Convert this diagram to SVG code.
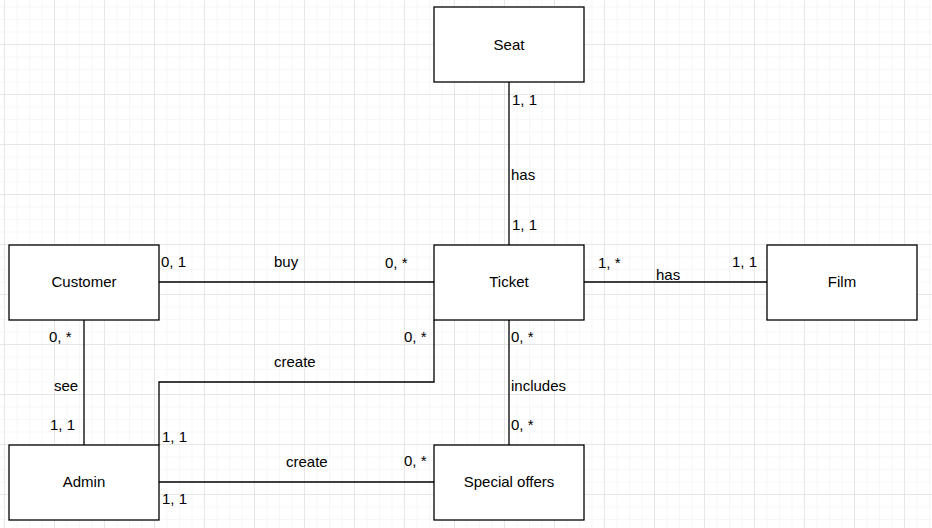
<svg xmlns="http://www.w3.org/2000/svg" width="932" height="528" viewBox="0 0 932 528">
<defs>
<pattern id="minor" x="4" y="-6" width="12.5" height="12.5" patternUnits="userSpaceOnUse">
<path d="M0 0H12.5M0 0V12.5" fill="none" stroke="#f0f0f0" stroke-width="1"/>
</pattern>
<pattern id="major" x="4" y="-6" width="50" height="50" patternUnits="userSpaceOnUse">
<path d="M0 0H50M0 0V50" fill="none" stroke="#d8d8d8" stroke-width="1"/>
</pattern>
<style>
.box{fill:#fff;stroke:#000;stroke-width:1.3}
.edge{fill:none;stroke:#000;stroke-width:1.3}
text{font-family:"Liberation Sans",Arial,sans-serif;font-size:15px;fill:#000}
.c{text-anchor:middle}
</style>
</defs>
<rect width="932" height="528" fill="#fff"/>
<rect width="932" height="528" fill="url(#minor)"/>
<rect width="932" height="528" fill="url(#major)"/>
<g id="connectors">
<path class="edge" d="M509 82V245"/>
<path class="edge" d="M159 282H434"/>
<path class="edge" d="M584 282H767"/>
<path class="edge" d="M84 320V445"/>
<path class="edge" d="M159 445V382H434V320"/>
<path class="edge" d="M159 482H434"/>
<path class="edge" d="M509 320V445"/>
<text x="512" y="105">1, 1</text>
<text x="511" y="180">has</text>
<text x="512" y="230">1, 1</text>
<text x="161" y="267">0, 1</text>
<text x="274" y="267">buy</text>
<text x="385" y="268">0, *</text>
<text x="598" y="268">1, *</text>
<text x="656" y="280">has</text>
<text x="732" y="267">1, 1</text>
<text x="49" y="342">0, *</text>
<text x="54" y="391">see</text>
<text x="50" y="430">1, 1</text>
<text x="274" y="367">create</text>
<text x="404" y="342">0, *</text>
<text x="162" y="442">1, 1</text>
<text x="286" y="467">create</text>
<text x="404" y="466">0, *</text>
<text x="162" y="504">1, 1</text>
<text x="511" y="342">0, *</text>
<text x="511" y="391">includes</text>
<text x="511" y="430">0, *</text>
</g>
<g id="seat"><rect class="box" x="434" y="7" width="150" height="75"/><text class="c" x="509" y="50">Seat</text></g>
<g id="customer"><rect class="box" x="9" y="245" width="150" height="75"/><text class="c" x="84" y="287">Customer</text></g>
<g id="ticket"><rect class="box" x="434" y="245" width="150" height="75"/><text class="c" x="509" y="287">Ticket</text></g>
<g id="film"><rect class="box" x="767" y="245" width="150" height="75"/><text class="c" x="842" y="287">Film</text></g>
<g id="admin"><rect class="box" x="9" y="445" width="150" height="75"/><text class="c" x="84" y="487">Admin</text></g>
<g id="special-offers"><rect class="box" x="434" y="445" width="150" height="75"/><text class="c" x="509" y="487">Special offers</text></g>
</svg>
